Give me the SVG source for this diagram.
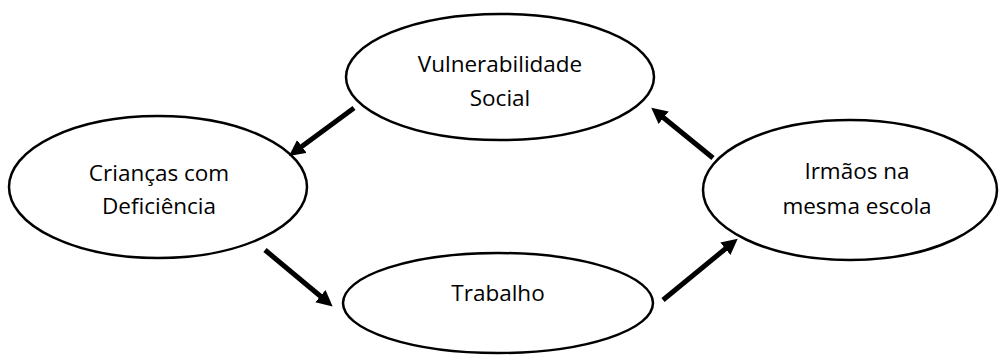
<svg xmlns="http://www.w3.org/2000/svg" width="1001" height="358" viewBox="0 0 1001 358">
<style>
.node ellipse{fill:#fff;stroke:#000;stroke-width:2.5}
.node text{font-family:"Open Sans","Liberation Sans",sans-serif;font-size:22.5px;fill:#000;text-anchor:middle;dominant-baseline:central}
.edge{stroke:#000;stroke-width:5;fill:none;marker-end:url(#ah)}
</style>
<defs>
<marker id="ah" markerUnits="userSpaceOnUse" markerWidth="18" markerHeight="18" refX="6" refY="8" orient="auto" viewBox="0 0 18 18">
<path d="M0,0 L16,8 L0,16 z" fill="#000"/>
</marker>
</defs>
<rect width="1001" height="358" fill="#fff"/>
<g id="vulnerabilidade" class="node">
<ellipse cx="500" cy="77" rx="154" ry="63"/>
<text x="500" y="63">Vulnerabilidade</text>
<text x="500" y="97">Social</text>
</g>
<g id="criancas" class="node">
<ellipse cx="158" cy="187" rx="149" ry="71"/>
<text x="159" y="172">Crianças com</text>
<text x="159" y="205">Deficiência</text>
</g>
<g id="trabalho" class="node">
<ellipse cx="498" cy="303" rx="155" ry="50"/>
<text x="498" y="292">Trabalho</text>
</g>
<g id="irmaos" class="node">
<ellipse cx="850" cy="190" rx="147" ry="70"/>
<text x="857" y="170">Irmãos na</text>
<text x="857" y="205">mesma escola</text>
</g>
<g id="connectors">
<line class="edge" x1="354" y1="108" x2="297" y2="150"/>
<line class="edge" x1="265" y1="250" x2="325" y2="300"/>
<line class="edge" x1="663" y1="300" x2="730" y2="245"/>
<line class="edge" x1="713" y1="158" x2="659" y2="114"/>
</g>
</svg>
